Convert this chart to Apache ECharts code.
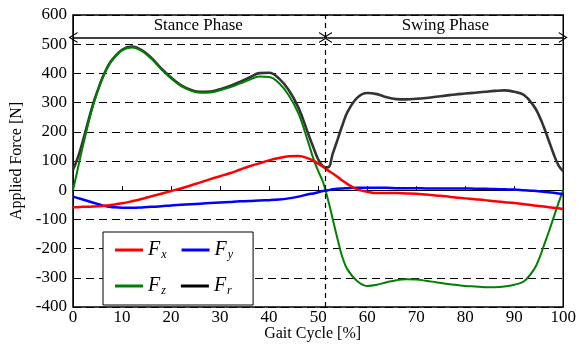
<!DOCTYPE html>
<html>
<head>
<meta charset="utf-8">
<script src="https://cdn.jsdelivr.net/npm/echarts@6/dist/echarts.min.js"></script>
<style>
  html, body { margin: 0; padding: 0; background: #fff; }
  #chart { width: 579px; height: 347px; }
</style>
</head>
<body>
<div id="chart"></div>
<script>
var gaitPct = [0,1,2,3,4,5,6,7,8,10,12,14,16,18,20,22,24,26,28,30,32,34,36,38,40,42,44,46,48,49,50,51,52,53,54,55,56,58,60,62,64,66,68,70,72,74,76,78,80,82,84,86,88,90,92,94,95,96,97,98,99,100];
var fx = [-58,-58,-57,-57,-56,-55,-54,-52,-50,-45,-38,-30,-21,-12,-3,6,16,27,38,48,58,70,82,92,102,110,116,117,109,101,91,80,68,57,45,32,21,3,-5,-10,-10,-10,-11,-12,-15,-18,-21,-25,-28,-31,-34,-38,-41,-44,-48,-52,-54,-56,-58,-60,-62,-64];
var fy = [-22,-27,-32,-37,-42,-47,-52,-56,-58,-60,-60,-59,-57,-55,-52,-50,-48,-46,-44,-42,-40,-38,-37,-35,-34,-32,-28,-22,-14,-11,-7,-3,0,3,5,6,7,8,8,8,8,7,7,7,6,6,6,6,6,5,5,4,3,2,0,-2,-4,-5,-7,-9,-11,-14];
var fz = [0,75,150,220,285,337,382,418,445,479,489,477,450,414,383,357,341,334,335,342,352,365,378,389,388,367,325,262,163,110,66,28,-32,-100,-170,-232,-272,-312,-328,-324,-315,-308,-305,-306,-310,-315,-320,-324,-328,-330,-332,-332,-330,-324,-312,-272,-238,-192,-145,-95,-45,0];
var fr = [70,112,168,230,290,340,385,421,447,481,492,480,453,417,386,360,344,337,338,346,357,371,386,401,402,383,343,282,192,148,106,82,78,126,175,225,268,317,333,329,318,312,311,313,316,320,324,328,331,334,337,340,342,337,326,288,258,218,172,126,86,65];

var yTicks = [-400, 600, 100];   // min, max, step
var phaseSplit = 51.5;           // toe-off
var phaseLevel = 523;            // height of the phase arrows
var phaseNames = ['Stance Phase', 'Swing Phase'];

var pairs = function (xs, ys) {
    var res = [];
    for (var i = 0; i < xs.length; i++) {
        res.push([xs[i], ys[i]]);
    }
    return res;
};

var serif = 'Liberation Serif';
var chevron = 'path://M0,10 L5,0 L10,10 L8.8,10 L5,2.4 L1.2,10 Z';

var myChart = echarts.init(document.getElementById('chart'));

var option = {
    animation: false,
    backgroundColor: '#fff',
    grid: {
        left: 73, right: 12, top: 15, bottom: 32,
        show: true,
        borderColor: '#000',
        borderWidth: 1.5,
        backgroundColor: 'transparent'
    },
    legend: {
        data: ['Fx', 'Fy', 'Fz', 'Fr'],
        left: 103, top: 232,
        width: 170,
        padding: [8, 20, 8, 12],
        itemGap: 15,
        itemWidth: 28,
        itemHeight: 3,
        icon: 'rect',
        backgroundColor: '#fff',
        borderColor: '#000',
        borderWidth: 1,
        borderRadius: 0,
        formatter: function (name) {
            return '{f|F}{s|' + name.charAt(1) + '}';
        },
        textStyle: {
            color: '#000',
            rich: {
                f: { fontFamily: serif, fontStyle: 'italic', fontSize: 20, color: '#000', lineHeight: 22 },
                s: { fontFamily: serif, fontStyle: 'italic', fontSize: 12, color: '#000', padding: [10, 13, 0, 1] }
            }
        }
    },
    xAxis: [{
        type: 'value',
        min: 0, max: 100, interval: 10,
        axisLine: { onZero: true, lineStyle: { color: '#000', width: 1 } },
        axisTick: { inside: true, length: 4, lineStyle: { color: '#000' } },
        axisLabel: { fontFamily: serif, fontSize: 17, color: '#000', margin: 2 },
        splitLine: { show: false }
    }, {
        type: 'value',
        position: 'bottom',
        min: 0, max: 100,
        name: 'Gait Cycle [%]',
        nameLocation: 'middle',
        nameGap: 19,
        nameTextStyle: { fontFamily: serif, fontSize: 16, color: '#000', padding: [0, 11, 0, 0] },
        axisLine: { show: false, onZero: false },
        axisTick: { show: false },
        axisLabel: { show: false },
        splitLine: { show: false }
    }],
    yAxis: {
        type: 'value',
        min: yTicks[0], max: yTicks[1], interval: yTicks[2],
        name: 'Applied Force [N]',
        nameLocation: 'middle',
        nameGap: 48,
        nameTextStyle: { fontFamily: serif, fontSize: 16, color: '#000' },
        axisLine: { show: true, lineStyle: { color: '#000' } },
        axisTick: { show: false },
        axisLabel: { fontFamily: serif, fontSize: 17, color: '#000', margin: 6 },
        splitLine: { show: true, lineStyle: { color: '#000', type: [8, 5], width: 1 } }
    },
    series: [
        {
            name: 'Fr', type: 'line', data: pairs(gaitPct, fr),
            smooth: 0.4, showSymbol: false,
            color: '#000',
            lineStyle: { color: '#333', width: 2.6 },
            markLine: {
                silent: true,
                symbol: [chevron, chevron],
                symbolSize: [11, 9],
                lineStyle: { color: '#000', width: 1.5, type: 'solid' },
                label: {
                    show: true, position: 'insideMiddleTop', distance: 3,
                    fontFamily: serif, fontSize: 17, color: '#000',
                    formatter: function (p) { return p.name; }
                },
                data: [
                    [{ name: phaseNames[0], coord: [0, phaseLevel] }, { coord: [phaseSplit - 0.4, phaseLevel] }],
                    [{ name: phaseNames[1], coord: [phaseSplit + 0.4, phaseLevel] }, { coord: [100, phaseLevel] }]
                ]
            }
        },
        {
            name: 'Fz', type: 'line', data: pairs(gaitPct, fz),
            smooth: 0.4, showSymbol: false,
            color: '#008000',
            lineStyle: { color: '#008000', width: 2 }
        },
        {
            name: 'Fy', type: 'line', data: pairs(gaitPct, fy),
            smooth: 0.4, showSymbol: false,
            color: '#0000ff',
            lineStyle: { color: '#0000ff', width: 2.5 }
        },
        {
            name: 'Fx', type: 'line', data: pairs(gaitPct, fx),
            smooth: 0.4, showSymbol: false,
            color: '#ff0000',
            lineStyle: { color: '#ff0000', width: 2.5 },
            markLine: {
                silent: true,
                symbol: ['none', 'none'],
                lineStyle: { color: '#000', width: 1.2, type: [5, 4] },
                label: { show: false },
                data: [{ xAxis: phaseSplit }]
            }
        }
    ]
};

myChart.setOption(option);
</script>
</body>
</html>
